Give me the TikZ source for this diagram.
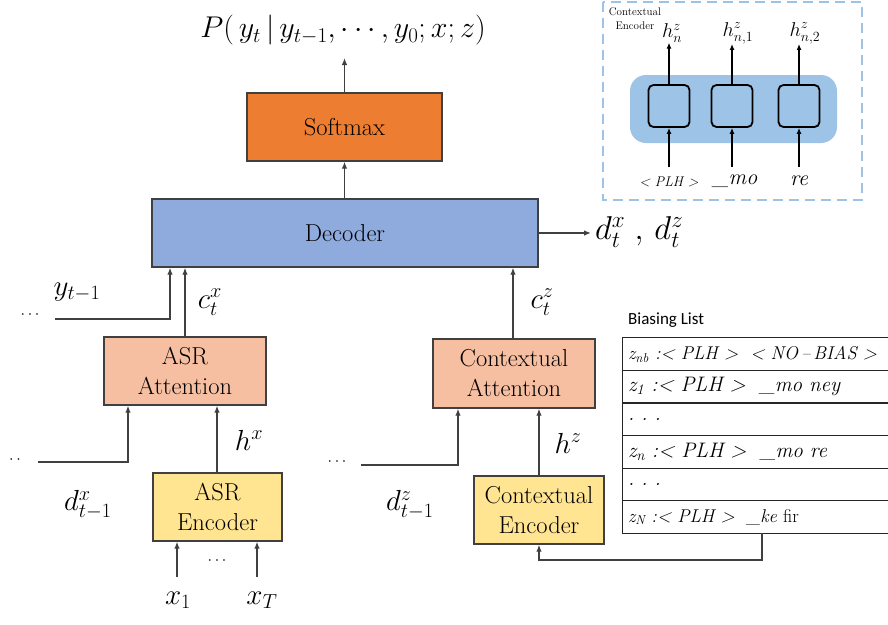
\RequirePackage{fix-cm}
\documentclass[tikz,border=0pt]{standalone}
\usepackage{fontspec}
\newfontfamily\calib{Carlito}
\usetikzlibrary{arrows.meta}
\definecolor{softc}{HTML}{ED7D31}
\definecolor{decc}{HTML}{8FAADC}
\definecolor{attc}{HTML}{F6BFA2}
\definecolor{encc}{HTML}{FFE491}
\definecolor{insc}{HTML}{9DC3E6}
\definecolor{edgec}{HTML}{404040}
\begin{document}
\begin{tikzpicture}[x=1pt,y=-1pt,
  box/.style={draw=edgec, line width=1.3pt, inner sep=0pt, align=center, font=\fontsize{24.5}{30}\selectfont},
  arr/.style={-{Latex[length=7pt,width=5.5pt]}, line width=1.3pt, draw=edgec},
  iarr/.style={-{Latex[length=6pt,width=5pt]}, line width=1.5pt, draw=black},
  lbl/.style={inner sep=0pt, font=\fontsize{29}{33}\selectfont},
  rowbox/.style={minimum width=269pt, minimum height=32.2pt, text width=259pt, align=left, inner sep=0pt, font=\fontsize{21}{24}\selectfont\itshape},
  tline/.style={draw=black!85, line width=1.2pt},
  cell/.style={draw=black, line width=1.8pt, fill=insc, rounded corners=5pt, minimum width=41pt, minimum height=42pt, inner sep=0pt},
  small/.style={inner sep=0pt}
]
\useasboundingbox (0,0) rectangle (888,624);

% main blocks
\node[box, fill=softc, minimum width=195pt, minimum height=68pt] (soft) at (344.5,127) {Softmax};
\node[box, fill=decc, minimum width=386pt, minimum height=68pt] (dec) at (345,233) {Decoder};
\node[box, fill=attc, minimum width=162pt, minimum height=68pt] (aatt) at (185,371) {ASR\\Attention};
\node[box, fill=encc, minimum width=129pt, minimum height=68pt] (aenc) at (217.5,507) {ASR\\Encoder};
\node[box, fill=attc, minimum width=162pt, minimum height=69pt] (catt) at (514,373.5) {Contextual\\Attention};
\node[box, fill=encc, minimum width=130pt, minimum height=68pt] (cenc) at (539,510) {Contextual\\Encoder};

% title
\node[lbl, font=\fontsize{30}{34}\selectfont] (title) at (343,30) {$P\bigl(\,y_t\,|\,y_{t-1},\cdots,y_0;x;z\bigr)$};
\draw[arr] (soft.north) -- (soft.north |- 0,58);
\draw[arr] (dec.north -| soft.north) -- (soft.south);

% decoder output
\coordinate (dout) at (591,233);
\draw[arr] (dec.east) -- (dout);
\node[lbl, anchor=west, font=\fontsize{33}{36}\selectfont] (dlab) at (595,232) {$d_t^x\;,\,d_t^z$};

% left inputs to decoder
\coordinate (yin) at (55,319);
\draw[arr] (yin) -| (dec.south -| 170,0);
\node[small, font=\fontsize{16}{18}\selectfont] (ydots) at (30,315) {$\cdots$};
\node[lbl] (ylab) at (77,292) {$y_{t-1}$};
\draw[arr] (aatt.north) -- (dec.south -| aatt.north);
\node[lbl] (cxlab) at (210,302) {$c_t^x$};

% ASR attention inputs
\coordinate (dxin) at (38,462);
\draw[arr] (dxin) -| (aatt.south -| 128,0);
\node[small, font=\fontsize{16}{18}\selectfont] (dxdots) at (15,460) {$\cdot\,\cdot$};
\node[lbl] (dxlab) at (88,505) {$d_{t-1}^x$};
\draw[arr] (aenc.north -| 217,0) -- (aatt.south -| 217,0);
\node[lbl] (hxlab) at (249,440) {$h^x$};

% ASR encoder inputs
\coordinate (x1in) at (177,577);
\coordinate (xTin) at (257,577);
\draw[arr] (x1in) -- (aenc.south -| x1in);
\draw[arr] (xTin) -- (aenc.south -| xTin);
\node[small, font=\fontsize{16}{18}\selectfont] (xdots) at (217,561) {$\cdots$};
\node[lbl] (x1lab) at (178,600) {$x_1$};
\node[lbl] (xTlab) at (262,600) {$x_T$};

% contextual side
\draw[arr] (catt.north -| 513,0) -- (dec.south -| 513,0);
\node[lbl] (czlab) at (542,302) {$c_t^z$};
\coordinate (dzin) at (361,465);
\draw[arr] (dzin) -| (catt.south -| 458,0);
\node[small, font=\fontsize{16}{18}\selectfont] (dzdots) at (337,462) {$\cdots$};
\node[lbl] (dzlab) at (410,505) {$d_{t-1}^z$};
\draw[arr] (cenc.north) -- (catt.south -| cenc.north);
\node[lbl] (hzlab) at (568,443) {$h^z$};

% biasing list
\node[anchor=west, inner sep=0pt, font=\calib\fontsize{17}{20}\selectfont] (blist) at (628,320) {Biasing List};
\node[rowbox, font=\fontsize{18.5}{21}\selectfont\itshape] (r1) at (757.5,354.1) {z\textsubscript{nb} :< PLH >\ \ < NO\,–\,BIAS >};
\node[rowbox, anchor=north] (r2) at (r1.south) {z\textsubscript{1} :< PLH >\ \ \_mo ney};
\node[rowbox, anchor=north] (r3) at (r2.south) {.\,\,.\,\,.};
\node[rowbox, anchor=north] (r4) at (r3.south) {z\textsubscript{n} :< PLH >\ \ \_mo re};
\node[rowbox, anchor=north] (r5) at (r4.south) {.\,\,.\,\,.};
\node[rowbox, anchor=north, font=\fontsize{18.5}{21}\selectfont\itshape] (r6) at (r5.south) {z\textsubscript{N} :< PLH >\ \ \_ke \upshape fir};
\draw[tline] (r1.north west) rectangle (r6.south east);
\draw[tline] (r1.south west) -- (r1.south east);
\draw[tline] (r2.south west) -- (r2.south east);
\draw[tline] (r3.south west) -- (r3.south east);
\draw[tline] (r4.south west) -- (r4.south east);
\draw[tline] (r5.south west) -- (r5.south east);
\coordinate (lturn) at (762,560);
\draw[arr] (r6.south -| lturn) -- (lturn) -- (cenc.south |- lturn) -- (cenc.south);

% inset
\draw[insc, line width=1.8pt, dash pattern=on 10pt off 6pt] (603,2) rectangle (862,200);
\node[inner sep=0pt, align=center, font=\fontsize{11}{14}\selectfont] (ilab) at (635,19) {Contextual\\Encoder};
\node[fill=insc, rounded corners=16pt, minimum width=207pt, minimum height=68pt, inner sep=0pt] (pill) at (733.5,109) {};
\node[cell] (c1) at (669,106) {};
\node[cell] (c2) at (732,106) {};
\node[cell] (c3) at (799,106) {};
\node[small, font=\fontsize{20}{22}\selectfont] (h1) at (672,33) {$h_n^z$};
\node[small, font=\fontsize{20}{22}\selectfont] (h2) at (738,33) {$h_{n,1}^z$};
\node[small, font=\fontsize{20}{22}\selectfont] (h3) at (805,33) {$h_{n,2}^z$};
\draw[iarr] (c1.north) -- (c1.north |- h1.south);
\draw[iarr] (c2.north) -- (c2.north |- h2.south);
\draw[iarr] (c3.north) -- (c3.north |- h3.south);
\node[small, font=\fontsize{14}{16}\selectfont\itshape] (i1) at (669,182) {< PLH >};
\node[small, font=\fontsize{22}{24}\selectfont\itshape] (i2) at (735,181) {\_mo};
\node[small, font=\fontsize{22}{24}\selectfont\itshape] (i3) at (799,181) {re};
\coordinate (i1t) at (669,167);
\coordinate (i2t) at (732,167);
\coordinate (i3t) at (799,167);
\draw[iarr] (i1t) -- (c1.south);
\draw[iarr] (i2t) -- (c2.south);
\draw[iarr] (i3t) -- (c3.south);
\end{tikzpicture}
\end{document}
